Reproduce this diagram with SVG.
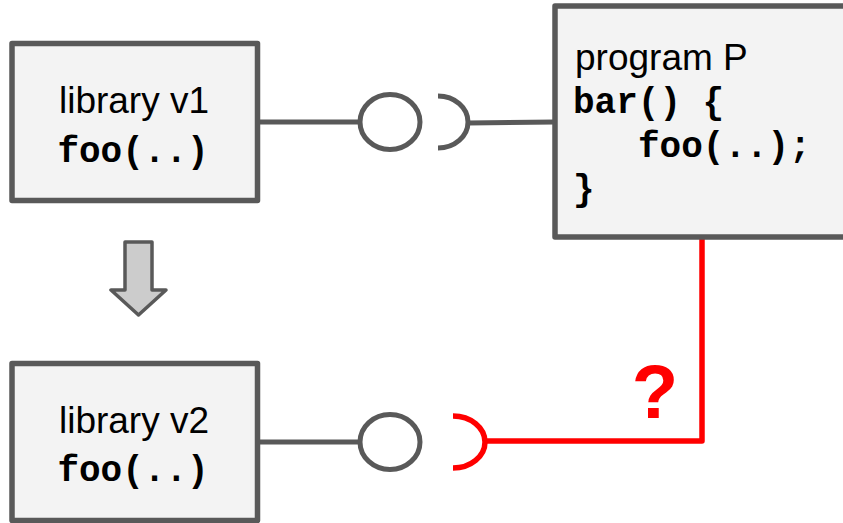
<svg xmlns="http://www.w3.org/2000/svg" width="843" height="523" viewBox="0 0 843 523">
  <style>
    .box { fill: #f3f3f3; stroke: #595959; stroke-width: 5.5; stroke-linejoin: round; }
    .sans { font-family: "Liberation Sans", Arial, sans-serif; font-size: 37px; fill: #000; }
    .mono { font-family: "Liberation Mono", "Courier New", monospace; font-size: 36px; font-weight: bold; fill: #000; }
    .gline { fill: none; stroke: #595959; stroke-width: 5; }
    .rline { fill: none; stroke: #ff0000; stroke-width: 5.5; stroke-linejoin: round; }
  </style>
  <rect width="843" height="523" fill="#ffffff"/>

  <g id="connectors">
    <line class="gline" x1="257" y1="122" x2="360" y2="122"/>
    <ellipse class="gline" cx="390" cy="122" rx="30" ry="27.5"/>
    <path class="gline" d="M438,96 A30,26 0 0 1 438,148"/>
    <line class="gline" x1="468" y1="123" x2="555" y2="122"/>

    <line class="gline" x1="257" y1="442" x2="360" y2="442"/>
    <ellipse class="gline" cx="390" cy="442" rx="30" ry="27.5"/>
    <path class="rline" d="M453,416 A32,26 0 0 1 453,468"/>
    <polyline class="rline" points="485,441 702,441 702,239"/>
    <text x="655" y="418" text-anchor="middle" font-family="Liberation Sans, Arial, sans-serif" font-size="76" font-weight="bold" fill="#ff0000">?</text>

    <polygon points="125,242 152,242 152,290 166,290 138.5,315 111,290 125,290" fill="#cccccc" stroke="#595959" stroke-width="3.5" stroke-linejoin="round"/>
  </g>

  <g id="library-v1">
    <rect class="box" x="12" y="43.5" width="245.5" height="157"/>
    <text class="sans" x="134" y="113" text-anchor="middle">library v1</text>
    <text class="mono" x="133" y="162" text-anchor="middle">foo(..)</text>
  </g>

  <g id="library-v2">
    <rect class="box" x="12" y="363.5" width="245.5" height="157"/>
    <text class="sans" x="134" y="433" text-anchor="middle">library v2</text>
    <text class="mono" x="133" y="481" text-anchor="middle">foo(..)</text>
  </g>

  <g id="program-p">
    <rect class="box" x="555" y="6" width="300" height="231"/>
    <text class="sans" x="575" y="70">program P</text>
    <text class="mono" x="573" y="113">bar() {</text>
    <text class="mono" x="638" y="157">foo(..);</text>
    <text class="mono" x="573" y="200">}</text>
  </g>
</svg>
